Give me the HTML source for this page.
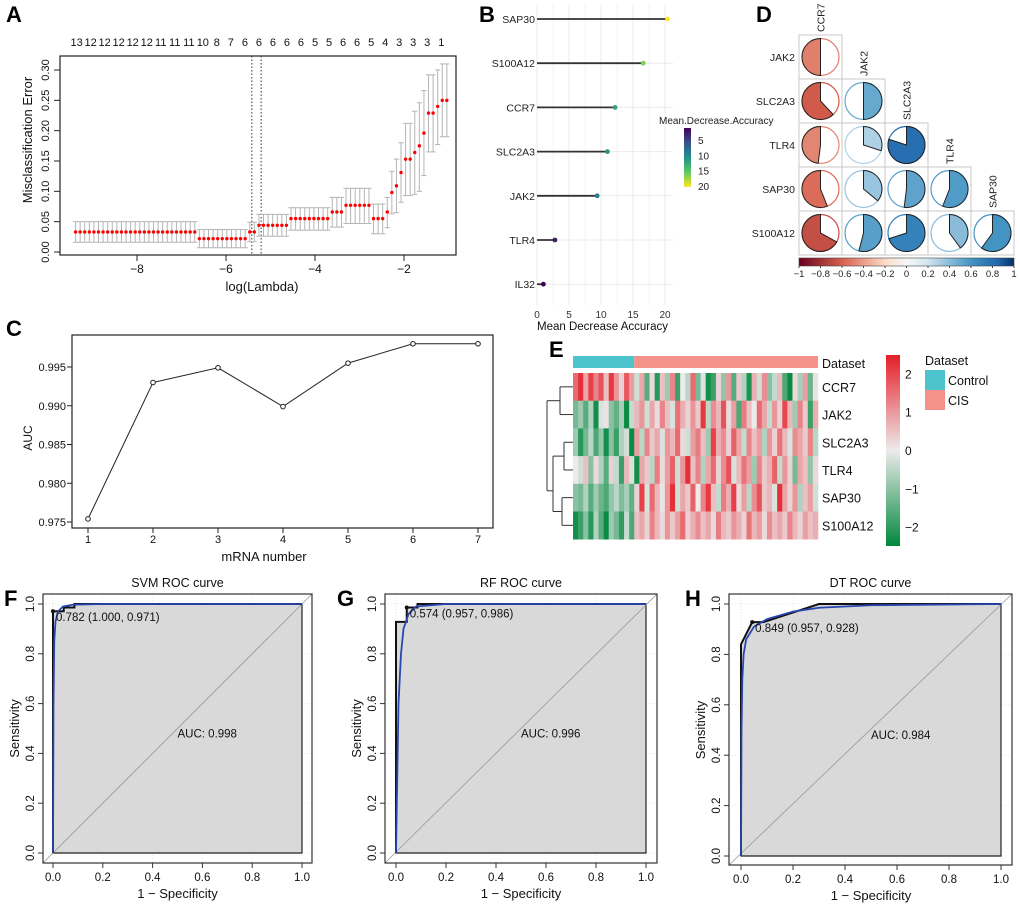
<!DOCTYPE html>
<html><head><meta charset="utf-8">
<style>
html,body{margin:0;padding:0;background:#fff;}
svg{display:block;font-family:"Liberation Sans",Arial,sans-serif;}
</style></head>
<body>
<svg id="fig" width="1020" height="909" viewBox="0 0 1020 909" xmlns="http://www.w3.org/2000/svg"></svg>
<script>
// ---------- DATA ----------
// Panel A (LASSO CV)
const aGroupVals=[0.033,0.022,0.033,0.044,0.055,0.066,0.077,0.055,0.066,0.098,0.109,0.131,0.153,0.153,0.164,0.175,0.196,0.229,0.229,0.240,0.250,0.250];
const aGroupLo  =[0.016,0.007,0.017,0.026,0.036,0.041,0.047,0.030,0.040,0.063,0.065,0.082,0.093,0.093,0.095,0.100,0.126,0.165,0.165,0.177,0.190,0.190];
const aGroupHi  =[0.050,0.037,0.049,0.062,0.073,0.090,0.105,0.079,0.090,0.133,0.153,0.180,0.212,0.212,0.232,0.246,0.266,0.292,0.292,0.300,0.310,0.310];
const aGroupCounts=[27,11,2,7,9,3,6,3,1,1,1,1,1,1,1,1,1,1,1,1,1,1];
const aLambdaStart=-9.38, aLambdaStep=0.103;
const aNz=[13,12,12,12,12,12,11,11,11,10,8,7,6,6,6,6,6,5,5,6,6,5,4,3,3,3,1];
const aVlines=[-5.42,-5.21];
const aXTicks=[-8,-6,-4,-2];
const aYTicks=[0,0.05,0.10,0.15,0.20,0.25,0.30];
// Panel B
const bGenes=["SAP30","S100A12","CCR7","SLC2A3","JAK2","TLR4","IL32"];
const bVals=[20.4,16.6,12.2,11.0,9.4,2.8,1.0];
const bTicks=[0,5,10,15,20];
const bLegendTicks=[5,10,15,20];
// Panel C
const cX=[1,2,3,4,5,6,7];
const cAUC=[0.9754,0.9930,0.9949,0.9899,0.9955,0.9980,0.9980];
const cYTicks=[0.975,0.980,0.985,0.990,0.995];
// Panel D
const dGenes=["CCR7","JAK2","SLC2A3","TLR4","SAP30","S100A12"];
const dCorr=[
 [-0.50],
 [-0.62,0.50],
 [-0.48,0.30,0.80],
 [-0.56,0.36,0.52,0.56],
 [-0.67,0.54,0.70,0.40,0.60]];
const dTicks=[-1,-0.8,-0.6,-0.4,-0.2,0,0.2,0.4,0.6,0.8,1];
// Panel E
const eGenes=["CCR7","JAK2","SLC2A3","TLR4","SAP30","S100A12"];
const eNControl=12;
const eCCR7=[1.5,2.2,0.8,2.0,1.2,1.8,0.5,2.1,1.0,0.3,1.7,0.9,-0.3,0.8,-1.5,0.2,-2.0,0.5,-0.8,1.2,-1.8,0.0,-0.5,1.5,-1.2,-0.2,-2.2,-1.8,0.3,-0.9,1.0,-1.5,0.4,-0.6,-2.1,0.7,-0.3,1.1,-1.0,-0.4,0.6,-1.6,-2.3,0.2,-0.7,0.9,-1.3,0.1];
const eJAK2=[-1.2,-0.8,-1.5,-0.6,-2.2,-0.2,0.1,-1.0,-1.4,-0.7,-2.3,-0.4,0.6,1.0,-0.3,0.8,0.2,1.2,0.5,-0.2,1.4,0.7,0.3,1.0,0.4,2.1,-0.5,1.1,0.6,1.8,0.2,0.9,-1.6,1.3,0.5,0.0,1.5,0.8,-0.4,1.0,0.3,1.9,0.6,-0.8,1.2,0.4,-1.8,0.7];
const eSLC2A3=[-0.8,-2.0,-1.2,-0.5,-1.6,-0.9,-2.2,-1.0,-1.8,-0.6,-0.3,-2.3,0.9,-0.5,1.2,0.4,0.8,-0.2,1.0,0.6,1.5,0.2,-0.3,0.9,1.3,0.5,-0.8,2.0,0.7,1.1,0.3,1.6,0.8,-0.4,1.2,0.5,0.9,-0.6,1.0,0.3,1.4,0.6,-0.2,1.1,0.8,0.4,1.2,-0.5];
const eTLR4=[0.0,-0.3,0.5,-1.0,0.2,-0.6,-1.5,0.3,-0.4,-1.8,0.6,-0.2,-2.2,0.8,0.4,-0.5,1.3,0.2,0.9,1.6,-0.3,1.0,2.2,0.5,1.2,-0.6,0.8,1.5,0.3,1.1,1.8,-0.2,0.6,1.4,0.9,-0.8,1.2,0.4,0.7,1.6,-0.4,1.0,0.3,-1.2,0.8,0.5,-0.9,0.2];
const eSAP30=[-1.0,-1.2,-0.6,-1.5,-0.8,-1.3,-1.6,-0.9,-0.5,-1.1,-0.7,-1.4,0.3,2.0,-0.2,1.5,0.6,0.1,1.0,2.2,-0.3,0.8,0.4,1.6,0.0,1.2,2.1,0.5,-0.4,1.3,0.7,2.0,0.2,0.9,-0.5,1.1,1.8,0.4,0.6,-0.2,2.2,0.8,0.3,1.0,-0.6,0.5,0.9,-0.3];
const eS100A12=[-2.2,-1.8,-1.0,-2.0,-0.6,-1.5,-2.3,-0.8,-1.2,-1.9,-0.4,-1.6,0.5,0.8,0.3,1.2,0.6,0.2,1.0,0.4,0.9,1.5,0.3,0.7,1.1,0.5,0.8,0.2,1.3,0.6,0.4,1.0,0.7,0.3,1.4,0.6,0.9,0.2,1.1,0.5,0.8,0.4,1.2,0.6,0.3,0.9,0.5,0.7];
const eLegendTicks=[2,1,0,-1,-2];
// ROC panels
const rocTicks=[0,0.2,0.4,0.6,0.8,1.0];
const fFpr=[0,0,0.043,0.043,0.086,0.086,1];
const fTpr=[0,0.971,0.971,0.986,0.986,1,1];
const fSmFpr=[0,0.002,0.005,0.01,0.02,0.04,0.08,0.2,1];
const fSmTpr=[0,0.6,0.85,0.93,0.97,0.99,0.997,1,1];
const gFpr=[0,0,0.043,0.043,0.086,0.086,1];
const gTpr=[0,0.928,0.928,0.986,0.986,1,1];
const gSmFpr=[0,0.005,0.01,0.02,0.03,0.05,0.08,0.2,1];
const gSmTpr=[0,0.3,0.6,0.8,0.9,0.96,0.99,1,1];
const hFpr=[0,0,0.043,0.086,0.3,1];
const hTpr=[0,0.84,0.928,0.928,1,1];
const hSmFpr=[0,0.002,0.005,0.01,0.02,0.05,0.1,0.2,0.3,0.5,1];
const hSmTpr=[0,0.5,0.7,0.8,0.86,0.91,0.94,0.97,0.985,0.995,1];

// ---------- HELPERS ----------
const NS="http://www.w3.org/2000/svg";
const svg=document.getElementById('fig');
function mk(tag,attrs,parent){const e=document.createElementNS(NS,tag);for(const k in attrs)e.setAttribute(k,attrs[k]);(parent||svg).appendChild(e);return e;}
function txt(s,x,y,size,opts,parent){const o=Object.assign({x:x,y:y,'font-size':size,fill:'#111'},opts||{});const t=mk('text',o,parent);t.textContent=s;return t;}
function lerp(a,b,t){return a+(b-a)*t;}
function rgb(c){return 'rgb('+c.map(v=>Math.round(v)).join(',')+')';}
function interp(stops,v){for(let i=0;i<stops.length-1;i++){if(v<=stops[i+1][0]){const t=(v-stops[i][0])/(stops[i+1][0]-stops[i][0]);return rgb([0,1,2].map(k=>lerp(stops[i][1][k],stops[i+1][1][k],Math.max(0,Math.min(1,t)))));}}return rgb(stops[stops.length-1][1]);}
const viridis=[[0,[68,1,84]],[0.25,[59,82,139]],[0.5,[33,145,140]],[0.75,[94,201,98]],[1,[253,231,37]]];
const rdbu=[[-1,[103,0,31]],[-0.6,[214,96,77]],[-0.2,[253,219,199]],[0,[247,247,247]],[0.2,[209,229,240]],[0.6,[67,147,195]],[0.85,[33,102,172]],[1,[5,48,97]]];
const heat=[[-2.4,[0,135,60]],[0,[235,235,235]],[2.4,[230,30,40]]];
function panelLabel(s,x,y){const t=txt(s,x,y,22,{'font-weight':'bold',fill:'#000'});}

// ---------- PANEL A ----------
(function(){
 const g=mk('g',{});
 
 
 const L=60,R=456,T=56,B=255;
 const xs=v=>404+(v+2)*44.5, ys=v=>252-v*606.7;
 mk('rect',{x:L,y:T,width:R-L,height:B-T,fill:'none',stroke:'#222','stroke-width':1.2},g);
 aVlines.forEach(v=>{const l=mk('line',{x1:xs(v),x2:xs(v),y1:T,y2:B,stroke:'#333','stroke-dasharray':'1.5,2'},g);});
 let idx=0;
 aGroupCounts.forEach((c,gi)=>{for(let k=0;k<c;k++){const lam=aLambdaStart+idx*aLambdaStep;const x=xs(lam);
   mk('line',{x1:x,x2:x,y1:ys(aGroupLo[gi]),y2:ys(aGroupHi[gi]),stroke:'#b5b5b5','stroke-width':1},g);
   mk('line',{x1:x-2.6,x2:x+2.6,y1:ys(aGroupLo[gi]),y2:ys(aGroupLo[gi]),stroke:'#b5b5b5'},g);
   mk('line',{x1:x-2.6,x2:x+2.6,y1:ys(aGroupHi[gi]),y2:ys(aGroupHi[gi]),stroke:'#b5b5b5'},g);
   const p=mk('circle',{cx:x,cy:ys(aGroupVals[gi]),r:1.7,fill:'#f00'},g);
   
   idx++;}});
 aNz.forEach((n,k)=>{const lam=aLambdaStart+k*3.06*aLambdaStep;txt(String(n),xs(lam)+1,46,11,{'text-anchor':'middle'},g);});
 aXTicks.forEach(v=>{mk('line',{x1:xs(v),x2:xs(v),y1:B,y2:B+6,stroke:'#222'},g);txt(String(v).replace('-','−'),xs(v),273,12,{'text-anchor':'middle'},g);});
 mk('line',{x1:xs(-9),x2:xs(-2),y1:B,y2:B,stroke:'#222'},g);
 aYTicks.forEach(v=>{mk('line',{x1:L-6,x2:L,y1:ys(v),y2:ys(v),stroke:'#222'},g);txt(v.toFixed(2),0,0,11,{'text-anchor':'middle',transform:'translate(49,'+ys(v)+') rotate(-90)'},g);});
 const xl=txt('log(Lambda)',262,291,13,{'text-anchor':'middle'},g);
 const yl=txt('Misclassification Error',0,0,13,{'text-anchor':'middle',transform:'translate(32,140) rotate(-90)'},g);
 panelLabel('A',6,22);
})();

// ---------- PANEL B ----------
(function(){
 const g=mk('g',{});
 
 
 const xs=v=>537+v*6.4, ys=i=>19+i*44.2;
 for(let v=0;v<=20;v+=2.5){mk('line',{x1:xs(v),x2:xs(v),y1:4,y2:305,stroke:'#ebebeb','stroke-width':v%5===0?1:0.6},g);}
 bGenes.forEach((gn,i)=>{mk('line',{x1:537,x2:673,y1:ys(i),y2:ys(i),stroke:'#ebebeb'},g);});
 bGenes.forEach((gn,i)=>{
  txt(gn,535,ys(i)+4,10.5,{'text-anchor':'end',fill:'#222'},g);
  const l=mk('line',{x1:537,x2:xs(bVals[i]),y1:ys(i),y2:ys(i),stroke:'#333','stroke-width':1.8},g);
  
  const c=mk('circle',{cx:xs(bVals[i]),cy:ys(i),r:2.4,fill:interp(viridis,(bVals[i]-1)/(20.4-1))},g);
  
 });
 bTicks.forEach(v=>txt(String(v),xs(v),318,10,{'text-anchor':'middle',fill:'#333'},g));
 const xt=txt('Mean Decrease Accuracy',537,330,11.5,{fill:'#111'},g);
 const lt=txt('Mean.Decrease.Accuracy',659,124,10,{fill:'#222'},g);
 const defs=mk('defs',{},g);const lg=mk('linearGradient',{id:'vir',x1:0,y1:0,x2:0,y2:1},defs);
 [0,0.25,0.5,0.75,1].forEach(t=>mk('stop',{offset:t,'stop-color':interp(viridis,t)},lg));
 const cb=mk('rect',{x:684,y:128,width:7,height:59,fill:'url(#vir)'},g);
 bLegendTicks.forEach(v=>{const y=128+(v-1)/(20.4-1)*59;txt(String(v),698,y+4,10,{fill:'#222'},g);});
 panelLabel('B',479,22);
})();

// ---------- PANEL C ----------
(function(){
 const g=mk('g',{});
 
 
 const L=72,R=493,T=335,B=528;
 const xs=v=>88+(v-1)*65, ys=v=>522-(v-0.975)*7750;
 mk('rect',{x:L,y:T,width:R-L,height:B-T,fill:'none',stroke:'#222','stroke-width':1.2},g);
 const pts=cX.map((x,i)=>xs(x)+','+ys(cAUC[i])).join(' ');
 const pl=mk('polyline',{points:pts,fill:'none',stroke:'#222','stroke-width':1},g);
 cX.forEach((x,i)=>{const c=mk('circle',{cx:xs(x),cy:ys(cAUC[i]),r:2.3,fill:'#fff',stroke:'#222'},g);});
 cX.forEach(x=>{mk('line',{x1:xs(x),x2:xs(x),y1:B,y2:B+5,stroke:'#222'},g);txt(String(x),xs(x),543,11,{'text-anchor':'middle'},g);});
 cYTicks.forEach(v=>{mk('line',{x1:L-5,x2:L,y1:ys(v),y2:ys(v),stroke:'#222'},g);txt(v.toFixed(3),L-6,ys(v)+4,11,{'text-anchor':'end'},g);});
 const xl=txt('mRNA number',264,561,13,{'text-anchor':'middle'},g);
 const yl=txt('AUC',0,0,12,{'text-anchor':'middle',transform:'translate(32,438) rotate(-90)'},g);
 panelLabel('C',6,336);
})();

// ---------- PANEL D ----------
(function(){
 const g=mk('g',{});
 
 
 const x0=799,y0=35,cs=43,rad=18.5;
 dCorr.forEach((row,i)=>{
  const gy=y0+i*44;
  txt(dGenes[i+1],795,gy+26,10.5,{'text-anchor':'end',fill:'#222'},g);
  row.forEach((r,j)=>{
   const gx=x0+j*cs;
   mk('rect',{x:gx,y:gy,width:cs,height:44,fill:'#fff',stroke:'#c8c8c8'},g);
   const cx=gx+cs/2,cy=gy+22,col=interp(rdbu,r);
   mk('circle',{cx:cx,cy:cy,r:rad,fill:'#fff',stroke:col,'stroke-width':1.2},g);
   const ang=Math.abs(r)*2*Math.PI*(r>=0?1:-1);
   const ex=cx+rad*Math.sin(ang),ey=cy-rad*Math.cos(ang);
   const large=Math.abs(r)>0.5?1:0,sweep=r>=0?1:0;
   const p=mk('path',{d:`M${cx},${cy} L${cx},${cy-rad} A${rad},${rad} 0 ${large} ${sweep} ${ex},${ey} Z`,fill:col,stroke:'#222','stroke-width':1},g);
   
  });
 });
 dGenes.slice(0,5).forEach((gn,j)=>{const cx=x0+j*cs+cs/2,ty=y0+j*44-3;txt(gn,0,0,10.5,{fill:'#222',transform:`translate(${cx+4},${ty}) rotate(-90)`},g);});
 const defs=mk('defs',{},g);const lg=mk('linearGradient',{id:'rdbu',x1:0,y1:0,x2:1,y2:0},defs);
 rdbu.forEach(s=>mk('stop',{offset:(s[0]+1)/2,'stop-color':rgb(s[1])},lg));
 const cb=mk('rect',{x:799,y:258,width:215,height:8,fill:'url(#rdbu)',stroke:'#444','stroke-width':0.6},g);
 dTicks.forEach(v=>{const x=799+(v+1)/2*215;mk('line',{x1:x,x2:x,y1:266,y2:268,stroke:'#444'},g);txt(String(v).replace('-','−'),x,277,9.5,{'text-anchor':'middle',fill:'#222'},g);});
 panelLabel('D',756,22);
})();

// ---------- PANEL E ----------
(function(){
 const g=mk('g',{});
 
 
 const rows=[eCCR7,eJAK2,eSLC2A3,eTLR4,eSAP30,eS100A12];
 const L=573,R=818,T=373,rh=27.7,n=eCCR7.length,cw=(R-L)/n;
 const ctrl=mk('rect',{x:L,y:356,width:cw*eNControl,height:12,fill:'#4DC3CE'},g);
 const cis=mk('rect',{x:L+cw*eNControl,y:356,width:cw*(n-eNControl),height:12,fill:'#F4928A'},g);
 txt('Dataset',822,368,12.5,{},g);
 rows.forEach((row,i)=>{row.forEach((v,j)=>{const c=mk('rect',{x:L+j*cw,y:T+i*rh,width:cw+0.3,height:rh+0.3,fill:interp(heat,v)},g);});
  txt(eGenes[i],822,T+i*rh+rh/2+5,12.5,{},g);});
 const ry=i=>T+i*rh+rh/2;
 const dl=[[573,ry(0),560,ry(0)],[573,ry(1),560,ry(1)],[560,ry(0),560,ry(1)],
  [573,ry(2),564,ry(2)],[573,ry(3),564,ry(3)],[564,ry(2),564,ry(3)],
  [573,ry(4),562,ry(4)],[573,ry(5),562,ry(5)],[562,ry(4),562,ry(5)],
  [564,(ry(2)+ry(3))/2,553,(ry(2)+ry(3))/2],[562,(ry(4)+ry(5))/2,553,(ry(4)+ry(5))/2],[553,(ry(2)+ry(3))/2,553,(ry(4)+ry(5))/2],
  [560,(ry(0)+ry(1))/2,547,(ry(0)+ry(1))/2],[553,(ry(2)+ry(5))/2+7,547,(ry(2)+ry(5))/2+7],[547,(ry(0)+ry(1))/2,547,(ry(2)+ry(5))/2+7]];
 dl.forEach(l=>mk('line',{x1:l[0],y1:l[1],x2:l[2],y2:l[3],stroke:'#333'},g));
 const defs=mk('defs',{},g);const lg=mk('linearGradient',{id:'heat',x1:0,y1:0,x2:0,y2:1},defs);
 [[0,[230,30,40]],[0.5,[235,235,235]],[1,[0,135,60]]].forEach(s=>mk('stop',{offset:s[0],'stop-color':rgb(s[1])},lg));
 const cb=mk('rect',{x:886,y:355,width:14,height:191,fill:'url(#heat)'},g);
 eLegendTicks.forEach(v=>{const y=451-v*38.3;txt(String(v).replace('-','−'),905,y+4,12,{},g);});
 txt('Dataset',925,365,12.5,{},g);
 const s1=mk('rect',{x:925,y:370,width:20,height:20,fill:'#4DC3CE'},g);
 const s2=mk('rect',{x:925,y:390,width:20,height:20,fill:'#F4928A'},g);
 txt('Control',948,385,12.5,{},g);txt('CIS',948,405,12.5,{},g);
 panelLabel('E',549,357);
})();

// ---------- ROC PANELS ----------
function roc(o){
 const g=mk('g',{});
 
 
 const xs=v=>o.x0+v*(o.x1-o.x0), ys=v=>o.y0-v*(o.y0-o.y1);
 mk('rect',{x:o.ox0,y:o.oy0,width:o.ox1-o.ox0,height:o.oy1-o.oy0,fill:'#fff'},g);
 rocTicks.forEach(v=>{mk('line',{x1:xs(v),x2:xs(v),y1:o.oy0,y2:o.oy1,stroke:'#e6e6e6','stroke-dasharray':'1,2'},g);mk('line',{x1:o.ox0,x2:o.ox1,y1:ys(v),y2:ys(v),stroke:'#e6e6e6','stroke-dasharray':'1,2'},g);});
 const poly=o.fpr.map((f,i)=>xs(f)+','+ys(o.tpr[i])).join(' ')+' '+xs(1)+','+ys(0);
 const area=mk('polygon',{points:poly,fill:'#d9d9d9',stroke:'#222','stroke-width':1.2},g);
 mk('line',{x1:o.ox0,y1:o.oy1,x2:o.ox1,y2:o.oy0,stroke:'#999','stroke-width':0.8},g);
 const st=mk('polyline',{points:o.fpr.map((f,i)=>xs(f)+','+ys(o.tpr[i])).join(' '),fill:'none',stroke:'#111','stroke-width':2},g);
 const sm=mk('polyline',{points:o.sfpr.map((f,i)=>xs(f)+','+ys(o.stpr[i])).join(' '),fill:'none',stroke:'#2946b0','stroke-width':1.8,'stroke-linejoin':'round'},g);
 const pt=mk('circle',{cx:xs(o.pt[0]),cy:ys(o.pt[1]),r:2,fill:'#111'},g);
 txt(o.ptLabel,xs(o.pt[0])+3,ys(o.pt[1])+10,11.5,{},g);
 txt(o.auc,xs(0.5),ys(0.48)+4,11.5,{},g);
 mk('rect',{x:o.ox0,y:o.oy0,width:o.ox1-o.ox0,height:o.oy1-o.oy0,fill:'none',stroke:'#333','stroke-width':1.2},g);
 rocTicks.forEach(v=>{mk('line',{x1:xs(v),x2:xs(v),y1:o.oy1,y2:o.oy1+5,stroke:'#333'},g);txt(v.toFixed(1),xs(v),o.oy1+18,11.5,{'text-anchor':'middle'},g);
  mk('line',{x1:o.ox0-5,x2:o.ox0,y1:ys(v),y2:ys(v),stroke:'#333'},g);txt(v.toFixed(1),0,0,11.5,{'text-anchor':'middle',transform:`translate(${o.ox0-9},${ys(v)}) rotate(-90)`},g);});
 const tt=txt(o.title,(o.ox0+o.ox1)/2,587,12.5,{'text-anchor':'middle'},g);
 const xl=txt('1 − Specificity',(o.x0+o.x1)/2,o.oy1+35,13,{'text-anchor':'middle'},g);
 const yl=txt('Sensitivity',0,0,13,{'text-anchor':'middle',transform:`translate(${o.ox0-24},${(o.y0+o.y1)/2}) rotate(-90)`},g);
 panelLabel(o.letter,o.lx,606);
}
roc({name:'panel-f-svm-roc',letter:'F',lx:4,title:'SVM ROC curve',ox0:43,ox1:312,oy0:594,oy1:863,x0:53,x1:302,y1:604,y0:853,fpr:fFpr,tpr:fTpr,sfpr:fSmFpr,stpr:fSmTpr,pt:[0,0.971],ptLabel:'0.782 (1.000, 0.971)',auc:'AUC: 0.998'});
roc({name:'panel-g-rf-roc',letter:'G',lx:337,title:'RF ROC curve',ox0:385,ox1:657,oy0:594,oy1:863,x0:396,x1:646,y1:604,y0:853,fpr:gFpr,tpr:gTpr,sfpr:gSmFpr,stpr:gSmTpr,pt:[0.043,0.986],ptLabel:'0.574 (0.957, 0.986)',auc:'AUC: 0.996'});
roc({name:'panel-h-dt-roc',letter:'H',lx:685,title:'DT ROC curve',ox0:729,ox1:1012,oy0:594,oy1:865,x0:741,x1:1001,y1:604,y0:856,fpr:hFpr,tpr:hTpr,sfpr:hSmFpr,stpr:hSmTpr,pt:[0.043,0.928],ptLabel:'0.849 (0.957, 0.928)',auc:'AUC: 0.984'});
</script>
</body></html>
